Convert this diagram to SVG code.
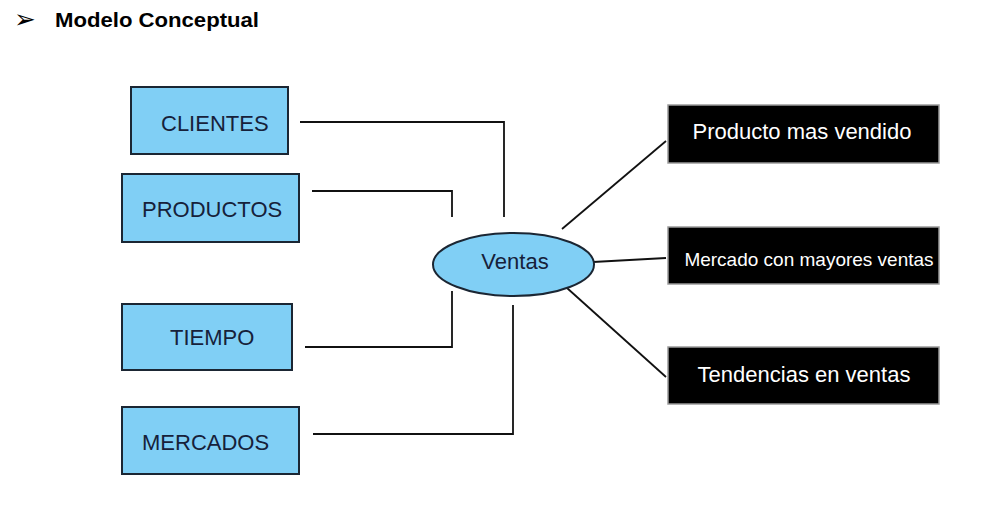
<svg xmlns="http://www.w3.org/2000/svg" width="999" height="511" viewBox="0 0 999 511">
<style>
.src rect{fill:#80cff5;stroke:#1b2633;stroke-width:2}
.src text,.hub text{font-family:"Liberation Sans",Arial,sans-serif;font-size:22px;fill:#16213a}
.out rect{fill:#000;stroke:#9a9a9a;stroke-width:1.5}
.out text{font-family:"Liberation Sans",Arial,sans-serif;font-size:22px;fill:#fff;text-anchor:middle}
#connectors path{fill:none;stroke:#111;stroke-width:1.8}
</style>
<rect width="999" height="511" fill="#fff"/>
<g id="header">
<text x="14" y="28" font-family="DejaVu Sans,sans-serif" font-size="26" fill="#000">➢</text>
<text x="55" y="27" font-family="Liberation Sans,Arial,sans-serif" font-weight="bold" font-size="21" textLength="204" lengthAdjust="spacingAndGlyphs" fill="#000">Modelo Conceptual</text>
</g>
<g id="connectors">
<path d="M300 122 H504 V217"/>
<path d="M312 191 H452 V217"/>
<path d="M305 347 H452 V291"/>
<path d="M313 434 H513 V305"/>
<path d="M562 229 L666 141"/>
<path d="M593 262 L666 258"/>
<path d="M567 288 L666 377"/>
</g>
<g id="clientes" class="src"><rect x="131" y="87" width="157" height="67"/><text x="161" y="131">CLIENTES</text></g>
<g id="productos" class="src"><rect x="122" y="174" width="177" height="68"/><text x="142" y="217">PRODUCTOS</text></g>
<g id="tiempo" class="src"><rect x="122" y="304" width="170" height="66"/><text x="170" y="345">TIEMPO</text></g>
<g id="mercados" class="src"><rect x="122" y="407" width="177" height="67"/><text x="142" y="450">MERCADOS</text></g>
<g id="ventas" class="hub"><ellipse cx="513.5" cy="264.5" rx="80.5" ry="31.5" fill="#80cff5" stroke="#1b2633" stroke-width="2"/><text x="515" y="269" text-anchor="middle">Ventas</text></g>
<g id="producto-mas-vendido" class="out"><rect x="668" y="105" width="271" height="58"/><text x="802" y="139">Producto mas vendido</text></g>
<g id="mercado-mayores-ventas" class="out"><rect x="668" y="227" width="271" height="57"/><text x="809" y="266" style="font-size:19px">Mercado con mayores ventas</text></g>
<g id="tendencias" class="out"><rect x="668" y="347" width="271" height="57"/><text x="804" y="382">Tendencias en ventas</text></g>
</svg>
